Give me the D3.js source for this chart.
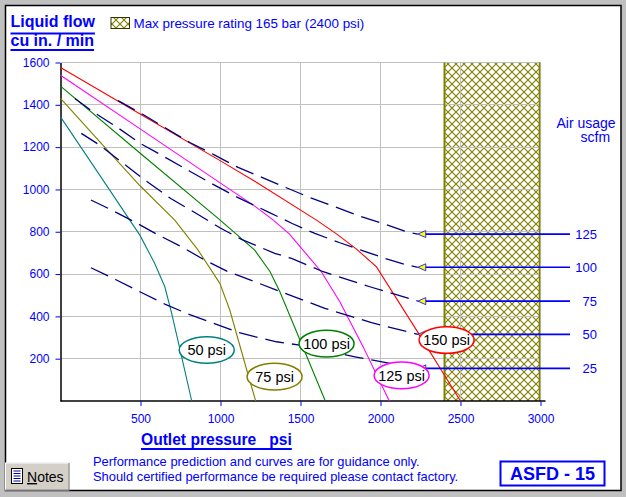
<!DOCTYPE html>
<html>
<head>
<meta charset="utf-8">
<script src="https://cdn.jsdelivr.net/npm/d3@7"></script>
<style>
  body { margin: 0; background: #c0c0c0; }
  svg { display: block; font-family: Arial, 'Liberation Sans', sans-serif; }
</style>
</head>
<body>
<svg id="chart" width="626" height="497"></svg>
<script>
// axis ticks
const xTicks = [500, 1000, 1500, 2000, 2500, 3000];
const yTicks = [200, 400, 600, 800, 1000, 1200, 1400, 1600];

// outlet pressure (psi) vs liquid flow (cu in / min), one curve per air inlet pressure
const pressureNames = ['50 psi', '75 psi', '100 psi', '125 psi', '150 psi'];
const flow50psi = [[0, 1343], [250, 1062], [433, 855], [496, 784], [589, 650], [652, 540], [693, 420], [756, 213], [820, 0]];
const flow75psi = [[0, 1430], [256, 1217], [500, 1015], [714, 855], [860, 713], [996, 556], [1058, 430], [1173, 123], [1220, 0]];
const flow100psi = [[0, 1488], [500, 1170], [985, 863], [1214, 713], [1310, 611], [1371, 516], [1506, 272], [1655, 0]];
const flow125psi = [[0, 1540], [500, 1285], [1000, 1030], [1214, 921], [1330, 855], [1430, 790], [1630, 611], [1746, 469], [1891, 257], [2055, 0]];
const flow150psi = [[0, 1576], [500, 1355], [1000, 1135], [1214, 1039], [1600, 855], [1725, 790], [1850, 718], [1975, 634], [2225, 335], [2500, 0]];
// where each pressure label sits (psi, flow)
const pressureLabelAt = [[914, 241], [1338, 115], [1663, 271], [2132, 121], [2413, 288]];

// air usage curves (scfm)
const airNames = ['25', '50', '75', '100', '125'];
const air25 = [[190, 630], [350, 572], [502, 514], [652, 458], [798, 411], [948, 370], [1100, 327], [1214, 304], [1350, 280], [1485, 265], [1840, 209], [1944, 194], [2233, 154]];
const air50 = [[190, 950], [308, 907], [454, 850], [598, 790], [756, 729], [902, 666], [1048, 611], [1214, 564], [1350, 524], [1652, 438], [1944, 370], [2233, 315]];
const air75 = [[130, 1265], [246, 1209], [392, 1123], [537, 1039], [689, 957], [839, 891], [996, 819], [1131, 764], [1339, 698], [1444, 674], [1642, 611], [1933, 540], [2233, 472]];
const air100 = [[90, 1430], [203, 1367], [350, 1296], [500, 1217], [650, 1154], [808, 1086], [954, 1024], [1100, 965], [1300, 893], [1448, 839], [1590, 792], [1746, 748], [1891, 710], [2048, 669], [2152, 646], [2233, 632]];
const air125 = [[360, 1420], [516, 1354], [662, 1288], [808, 1222], [964, 1162], [1110, 1104], [1266, 1055], [1412, 1008], [1564, 960], [1714, 918], [1866, 875], [2016, 839], [2162, 800], [2233, 789]];

const maxRatingPsi = 2400;
const maxPsi = 3000;
const maxFlow = 1600;

const pressureColors = ['#008080', '#808000', '#008000', '#ff00ff', '#ff0000'];
const blue = '#0000ff';

function drawChart() {
  const svg = d3.select('#chart');

  // window background + white panel
  svg.append('rect').attr('width', 626).attr('height', 497).attr('fill', '#c0c0c0');
  svg.append('rect')
    .attr('x', 5.5).attr('y', 5.5).attr('width', 615.5).attr('height', 485)
    .attr('fill', '#fff').attr('stroke', '#000').attr('stroke-width', 1.5);

  const defs = svg.append('defs');
  const pat = defs.append('pattern')
    .attr('id', 'hatch').attr('patternUnits', 'userSpaceOnUse')
    .attr('width', 8).attr('height', 8);
  pat.append('rect').attr('width', 8).attr('height', 8).attr('fill', '#fff');
  pat.append('path').attr('d', 'M0,0L8,8M8,0L0,8').attr('stroke', '#808000').attr('stroke-width', 1.1);

  const x = d3.scaleLinear().domain([0, maxPsi]).range([60.5, 540.5]);
  const y = d3.scaleLinear().domain([0, maxFlow]).range([401, 62.5]);

  // max pressure zone
  svg.append('rect')
    .attr('x', x(maxRatingPsi)).attr('y', y(maxFlow))
    .attr('width', x(maxPsi) - x(maxRatingPsi)).attr('height', y(0) - y(maxFlow))
    .attr('fill', 'url(#hatch)');

  // grid
  svg.append('g').selectAll('line').data(xTicks).enter().append('line')
    .attr('x1', (d) => x(d)).attr('x2', (d) => x(d))
    .attr('y1', y(0)).attr('y2', y(maxFlow))
    .attr('stroke', '#c0c0c0').attr('shape-rendering', 'crispEdges');
  svg.append('g').selectAll('line').data(yTicks).enter().append('line')
    .attr('x1', x(0)).attr('x2', x(maxPsi))
    .attr('y1', (d) => y(d)).attr('y2', (d) => y(d))
    .attr('stroke', '#c0c0c0').attr('shape-rendering', 'crispEdges');

  // zone border lines
  svg.append('line')
    .attr('x1', x(maxRatingPsi)).attr('x2', x(maxRatingPsi))
    .attr('y1', y(0)).attr('y2', y(maxFlow))
    .attr('stroke', '#808000').attr('stroke-width', 2);
  svg.append('line')
    .attr('x1', x(maxPsi) - 1).attr('x2', x(maxPsi) - 1)
    .attr('y1', y(0)).attr('y2', y(maxFlow))
    .attr('stroke', '#808000').attr('stroke-width', 1.5);

  // axes
  const yAxis = svg.append('g')
    .attr('transform', `translate(${x(0)},0)`)
    .call(d3.axisLeft(y).tickValues(yTicks).tickFormat(d3.format('d'))
      .tickSize(5).tickSizeOuter(0).tickPadding(6));
  const xAxis = svg.append('g')
    .attr('transform', `translate(0,${y(0)})`)
    .call(d3.axisBottom(x).tickValues(xTicks).tickFormat(d3.format('d'))
      .tickSize(5).tickSizeOuter(0).tickPadding(8));
  [yAxis, xAxis].forEach((g) => {
    g.attr('font-family', null).attr('font-size', 12);
    g.select('.domain').attr('stroke', '#000').attr('stroke-width', 1.5);
    g.selectAll('.tick line').attr('stroke', blue);
    g.selectAll('.tick text').attr('fill', blue);
  });
  xAxis.select('.domain').attr('d', `M${x(0)},0H${x(maxPsi) + 5}`);

  const line = d3.line().x((d) => x(d[0])).y((d) => y(d[1]));

  // pressure curves
  const pressureCurves = [flow50psi, flow75psi, flow100psi, flow125psi, flow150psi];
  svg.append('g').selectAll('path').data(pressureCurves).enter().append('path')
    .attr('d', line)
    .attr('fill', 'none')
    .attr('stroke', (d, i) => pressureColors[i])
    .attr('stroke-width', 1.1);

  // air usage curves
  const airCurves = [air25, air50, air75, air100, air125];
  svg.append('g').selectAll('path').data(airCurves).enter().append('path')
    .attr('d', line)
    .attr('fill', 'none')
    .attr('stroke', '#000080')
    .attr('stroke-width', 1.3)
    .attr('stroke-dasharray', '19,8');

  // leader lines to the air labels
  const ends = airCurves.map((c, i) => ({ p: c[c.length - 1], name: airNames[i] }));
  const lead = svg.append('g').selectAll('g').data(ends).enter().append('g');
  lead.append('line')
    .attr('x1', (d) => x(d.p[0]) + 2).attr('x2', 570)
    .attr('y1', (d) => y(d.p[1])).attr('y2', (d) => y(d.p[1]))
    .attr('stroke', blue).attr('stroke-width', 1.6);
  lead.append('path')
    .attr('d', (d) => {
      const px = x(d.p[0]), py = y(d.p[1]);
      return `M${px},${py}L${px + 8},${py - 3.5}L${px + 8},${py + 3.5}Z`;
    })
    .attr('fill', '#ffff00').attr('stroke', blue).attr('stroke-width', 0.8);
  lead.append('text')
    .attr('x', 597).attr('y', (d) => y(d.p[1]) + 5)
    .attr('text-anchor', 'end')
    .attr('font-size', 13).attr('fill', blue)
    .text((d) => d.name);

  // pressure labels
  const lab = svg.append('g').selectAll('g').data(pressureLabelAt).enter().append('g')
    .attr('transform', (d) => `translate(${x(d[0])},${y(d[1])})`);
  lab.append('ellipse')
    .attr('rx', 27.5).attr('ry', 13.3)
    .attr('fill', '#fff')
    .attr('stroke', (d, i) => pressureColors[i]).attr('stroke-width', 1.5);
  lab.append('text')
    .attr('text-anchor', 'middle').attr('y', 5.2)
    .attr('font-size', 14.5).attr('fill', '#000')
    .text((d, i) => pressureNames[i]);

  // titles
  const title = svg.append('g').attr('fill', blue).attr('font-weight', 'bold').attr('font-size', 16);
  [['Liquid flow', 26.7, 33.5], ['cu in. / min', 45.7, 50]].forEach(([t, by, uy]) => {
    const txt = title.append('text').attr('x', 10.5).attr('y', by).text(t);
    const w = txt.node().getComputedTextLength();
    title.append('rect').attr('x', 10.5).attr('y', uy - 1).attr('width', w).attr('height', 2);
  });
  const xt = title.append('text').attr('x', 141).attr('y', 445).attr('font-size', 15.6)
    .style('white-space', 'pre').text('Outlet pressure   psi');
  title.append('rect').attr('x', 141).attr('y', 448).attr('width', xt.node().getComputedTextLength()).attr('height', 2);

  // legend
  svg.append('rect')
    .attr('x', 111).attr('y', 17.5).attr('width', 18.5).attr('height', 11)
    .attr('fill', 'url(#hatch)').attr('stroke', '#333300');
  svg.append('text').attr('x', 133.5).attr('y', 28).attr('font-size', 13.4).attr('fill', blue)
    .text('Max pressure rating 165 bar (2400 psi)');

  svg.append('text').attr('x', 556.5).attr('y', 127.5).attr('font-size', 14).attr('fill', blue).text('Air usage');
  svg.append('text').attr('x', 580.5).attr('y', 142).attr('font-size', 14).attr('fill', blue).text('scfm');

  // notes
  const notes = ['Performance prediction and curves are for guidance only.',
    'Should certified performance be required please contact factory.'];
  svg.append('g').selectAll('text').data(notes).enter().append('text')
    .attr('x', 93).attr('y', (d, i) => 466 + i * 15)
    .attr('font-size', 12.9).attr('fill', blue)
    .text((d) => d);

  // model badge
  svg.append('rect')
    .attr('x', 500.5).attr('y', 461.5).attr('width', 104).attr('height', 24)
    .attr('fill', 'none').attr('stroke', blue).attr('stroke-width', 2);
  svg.append('text').attr('x', 552.5).attr('y', 480).attr('text-anchor', 'middle')
    .attr('font-size', 18).attr('font-weight', 'bold').attr('fill', blue).text('ASFD - 15');

  // notes button
  const btn = svg.append('g');
  btn.append('rect').attr('x', 5).attr('y', 462.5).attr('width', 64.5).attr('height', 28).attr('fill', '#d4d0c8');
  btn.append('path').attr('d', 'M5.5,490V463H69').attr('fill', 'none').attr('stroke', '#fff');
  btn.append('path').attr('d', 'M69,463V490H5.5').attr('fill', 'none').attr('stroke', '#808080');
  btn.append('rect').attr('x', 11.5).attr('y', 468.5).attr('width', 11).attr('height', 15)
    .attr('fill', '#fff').attr('stroke', '#000');
  btn.append('g').selectAll('line').data(d3.range(5)).enter().append('line')
    .attr('x1', 13.5).attr('x2', 20.5)
    .attr('y1', (d) => 471 + d * 2.5).attr('y2', (d) => 471 + d * 2.5)
    .attr('stroke', '#0000a0');
  const nt = btn.append('text').attr('x', 27).attr('y', 482).attr('font-size', 14).attr('fill', '#000');
  nt.append('tspan').attr('text-decoration', 'underline').text('N');
  nt.append('tspan').text('otes');
}

drawChart();
</script>
</body>
</html>
